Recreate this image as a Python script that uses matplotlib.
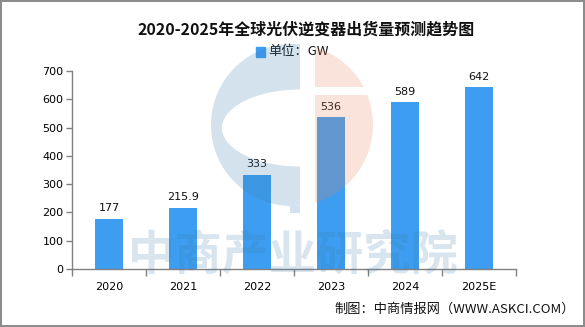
import numpy as np
import matplotlib.pyplot as plt
from matplotlib.patches import Rectangle, Polygon

plt.rcParams['font.family'] = ['Noto Sans CJK SC', 'DejaVu Sans']

# shipments (GW)
years = ['2020', '2021', '2022', '2023', '2024', '2025E']
shipments = [177, 215.9, 333, 536, 589, 642]
value_labels = ['177', '215.9', '333', '536', '589', '642']
yticks = [0, 100, 200, 300, 400, 500, 600, 700]

bar_color = '#3d9df0'
W, H = 585, 327

fig = plt.figure(figsize=(W / 100, H / 100), dpi=100)
fig.patch.set_edgecolor('#8c8c8c')
fig.patch.set_linewidth(1.5)

ax = fig.add_axes([72 / W, 1 - 269 / H, 444 / W, 198 / H])
x = np.arange(len(years))
ax.bar(x, shipments, width=0.365, color=bar_color, zorder=2)
for xi, v, lab in zip(x, shipments, value_labels):
    ax.text(xi, v + 20, lab, ha='center', va='bottom', fontsize=8,
            family='DejaVu Sans', color='#111111')

ax.set_xlim(-0.5, len(years) - 0.5)
ax.set_ylim(0, 700)
ax.set_yticks(yticks)
ax.set_yticklabels([str(t) for t in yticks], fontsize=8, family='DejaVu Sans')
ax.set_xticks(x)
ax.set_xticklabels(years, fontsize=8, family='DejaVu Sans')
ax.set_xticks(np.arange(len(years) + 1) - 0.5, minor=True)
ax.tick_params(axis='x', which='major', length=0, pad=9)
ax.tick_params(axis='x', which='minor', length=5, color='#808080', width=1)
ax.tick_params(axis='y', length=4, color='#808080', width=1, pad=2)
for s in ['top', 'right']:
    ax.spines[s].set_visible(False)
for s in ['left', 'bottom']:
    ax.spines[s].set_color('#808080')
    ax.spines[s].set_linewidth(1)

# title, legend and source line
fig.text(306 / W, 1 - 30 / H, '2020-2025年全球光伏逆变器出货量预测趋势图',
         ha='center', va='center', fontsize=11.5, fontweight='bold', color='#111111')
fig.patches.append(Rectangle((256 / W, 1 - 57 / H), 9 / W, 10 / H,
                             transform=fig.transFigure, color=bar_color))
fig.text(268 / W, 1 - 52 / H, '单位：GW', ha='left', va='center', fontsize=9.5,
         color='#111111')
fig.text(575 / W, 1 - 309 / H, '制图：中商情报网（WWW.ASKCI.COM）', ha='right',
         va='center', fontsize=9.5, color='#111111')

# watermark layer in pixel coordinates (y grows downward)
wm = fig.add_axes([0, 0, 1, 1], zorder=5)
wm.set_xlim(0, W)
wm.set_ylim(H, 0)
wm.axis('off')
wm.patch.set_alpha(0)
blue_wm = '#3c7fb1'
salmon_wm = '#e8805a'
cx, cy, r = 292, 125, 81

# left "C": half circle up to x=300 with a half-ellipse cut out opening right
t0 = np.arccos((300 - cx) / r)
t = np.linspace(-t0, t0 - 2 * np.pi, 120)
outer = np.column_stack([cx + r * np.cos(t), cy + r * np.sin(t)])
s = np.linspace(np.pi / 2, 3 * np.pi / 2, 80)
hole = np.column_stack([300 + 78 * np.cos(s), 128 + 38.5 * np.sin(s)])
c_shape = np.vstack([outer, hole])
wm.add_patch(Polygon(c_shape, closed=True, color=blue_wm, alpha=0.22, lw=0))
wm.add_patch(Rectangle((290, 205.5), 10, 7, color=blue_wm, alpha=0.22, lw=0))

# right part of the circle, split by a thin notch
t1 = np.arccos((315 - cx) / r)
ty = np.arcsin((87 - cy) / r)
upper_t = np.linspace(-t1, ty, 40)
upper = np.column_stack([cx + r * np.cos(upper_t), cy + r * np.sin(upper_t)])
upper = np.vstack([upper, [[315, 87]]])
wm.add_patch(Polygon(upper, closed=True, color=salmon_wm, alpha=0.22, lw=0))
ty2 = np.arcsin((95 - cy) / r)
lower_t = np.linspace(ty2, t1, 80)
lower = np.column_stack([cx + r * np.cos(lower_t), cy + r * np.sin(lower_t)])
lower_pts = np.vstack([[[315, 95]], lower])
wm.add_patch(Polygon(lower_pts, closed=True, color=salmon_wm, alpha=0.22, lw=0))

wm.text(293, 255, '中商产业研究院', ha='center', va='center', fontsize=34,
        fontweight='bold', color=blue_wm, alpha=0.2)

fig.savefig('out.png', dpi=100)
